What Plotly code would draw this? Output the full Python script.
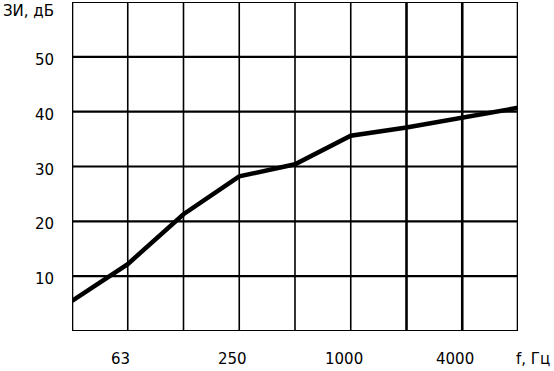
import plotly.graph_objects as go

freqs = ["31.5", "63", "125", "250", "500", "1000", "2000", "4000", "8000"]
zi_db = [5.5, 12.2, 21.3, 28.2, 30.4, 35.6, 37.1, 39.0, 40.7]
x_labels = ["", "63", "", "250", "", "1000", "", "4000", ""]
y_ticks = [10, 20, 30, 40, 50]
y_title = "ЗИ, дБ"
x_title = "f, Гц"

xpos = list(range(len(freqs)))
FONT = dict(family="DejaVu Sans", size=15, color="black")

fig = go.Figure()
fig.add_trace(go.Scatter(x=xpos, y=zi_db, mode="lines",
                         line=dict(color="black", width=4.5),
                         hoverinfo="skip", showlegend=False))

shapes = []
for i in xpos:
    w = 1.6 if 0 < i < 6 else 2.6
    shapes.append(dict(type="line", xref="x", yref="paper", x0=i, x1=i, y0=0, y1=1,
                       line=dict(color="black", width=w), layer="below"))
for v in [0] + y_ticks + [60]:
    shapes.append(dict(type="line", xref="paper", yref="y", x0=0, x1=1, y0=v, y1=v,
                       line=dict(color="black", width=2.2), layer="below"))

annotations = []
for v in y_ticks:
    annotations.append(dict(x=0, xref="paper", y=v, yref="y", text=str(v), showarrow=False,
                            xanchor="right", yanchor="middle", xshift=-16, yshift=-3, font=FONT))
for i, t in enumerate(x_labels):
    if t:
        annotations.append(dict(x=i, xref="x", y=0, yref="paper", text=t, showarrow=False,
                                xanchor="center", yanchor="middle", xshift=-7, yshift=-28, font=FONT))
annotations.append(dict(x=1, xref="paper", y=0, yref="paper", text=x_title, showarrow=False,
                        xanchor="center", yanchor="middle", xshift=15, yshift=-28, font=FONT))
annotations.append(dict(x=0, xref="paper", y=1, yref="paper", text=y_title, showarrow=False,
                        xanchor="right", yanchor="middle", xshift=-16, yshift=-9, font=FONT))

fig.update_layout(
    width=554, height=371,
    margin=dict(l=72, r=36, t=2, b=40),
    paper_bgcolor="white", plot_bgcolor="white",
    xaxis=dict(range=[0, 8], showgrid=False, zeroline=False, showticklabels=False,
               ticks="", showline=False, fixedrange=True),
    yaxis=dict(range=[0, 60], showgrid=False, zeroline=False, showticklabels=False,
               ticks="", showline=False, fixedrange=True),
    shapes=shapes, annotations=annotations,
)
fig.write_html("out.html", config={"displayModeBar": False},
               post_script="document.body.style.margin='0';document.body.style.overflow='hidden';")
